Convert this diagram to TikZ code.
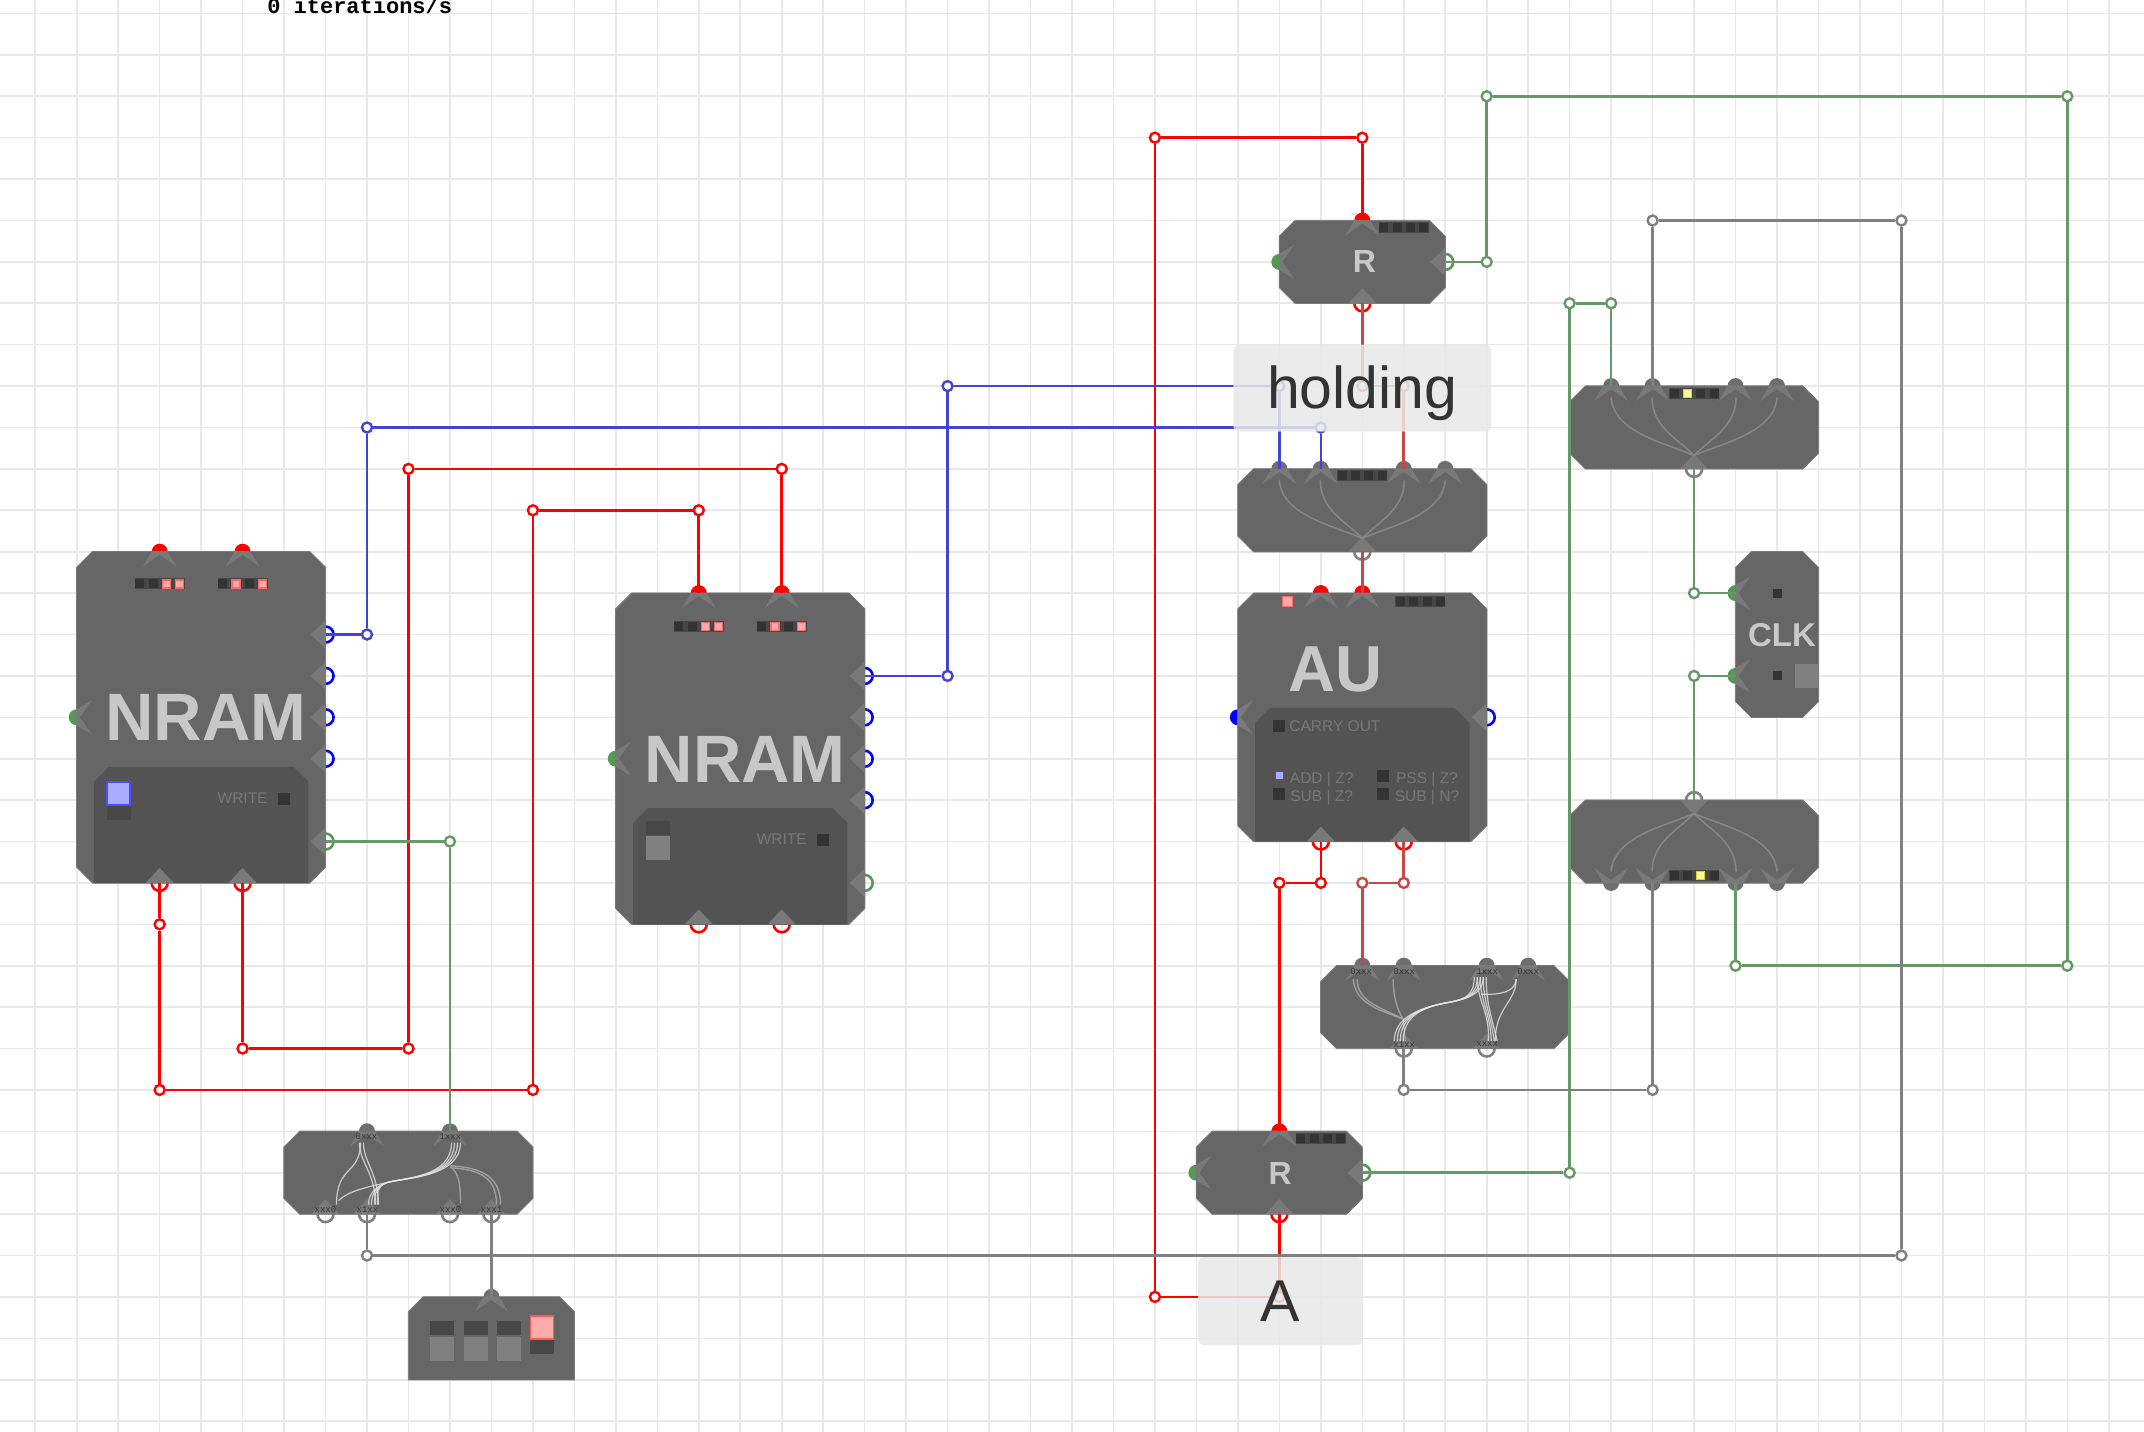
\documentclass[tikz,border=0pt]{standalone}
\usepackage{fontspec}
\setmainfont{Liberation Sans}
\setmonofont{Liberation Mono}
\usepackage{xcolor}
\usetikzlibrary{positioning, calc}

\definecolor{chipgray}{HTML}{666666}
\definecolor{panelgray}{HTML}{535353}
\definecolor{shadegray}{HTML}{797979}
\definecolor{chipfont}{HTML}{C8C8C8}
\definecolor{panelfont}{HTML}{787878}
\definecolor{gridgray}{HTML}{E8E8E8}
\definecolor{portred}{HTML}{FF0000}
\definecolor{portblue}{HTML}{0000FF}
\definecolor{portgreen}{HTML}{559955}
\definecolor{portgray}{HTML}{6E6E6E}
\definecolor{ringgray}{HTML}{808080}
\definecolor{wirered}{HTML}{FF0000}
\definecolor{wiredim}{HTML}{C84848}
\definecolor{wireblue}{HTML}{4444CC}
\definecolor{wiregreen}{HTML}{669966}
\definecolor{wiregray}{HTML}{808080}

\tikzset{
  box/.style 2 args={rectangle, inner sep=0pt, minimum width=#1*41.47pt, minimum height=#2*41.4pt},
  chipfill/.style={fill=chipgray, draw=shadegray, line width=0.8pt},
  panelfill/.style={fill=panelgray},
  wire/.style={line width=2.6pt, line join=round},
  joint/.style={circle, draw=#1, fill=white, line width=2.4pt, minimum size=10pt, inner sep=0pt},
  lampbar/.style={rectangle, fill=black!72, minimum width=50pt, minimum height=11pt, inner sep=0pt},
  lampoff/.style={rectangle, fill=black!80, minimum size=9pt, inner sep=0pt},
  lampred/.style={rectangle, fill=red!33, draw=red!60, line width=1.2pt, minimum size=8pt, inner sep=0pt},
  lampblue/.style={rectangle, fill=blue!33, draw=blue!75, line width=1.2pt, minimum size=8pt, inner sep=0pt},
  lampyel/.style={rectangle, fill=yellow!40, draw=yellow!85!black, line width=1.2pt, minimum size=8pt, inner sep=0pt},
  swgray/.style={rectangle, fill=black!50, minimum size=24pt, inner sep=0pt},
  swdark/.style={rectangle, fill=black!72, minimum width=24pt, minimum height=14pt, inner sep=0pt},
  swblue/.style={rectangle, fill=blue!33, draw=blue!70, line width=1.4pt, minimum size=23pt, inner sep=0pt},
  swred/.style={rectangle, fill=red!33, draw=red!65, line width=1.4pt, minimum size=23pt, inner sep=0pt},
  chiptext/.style={font=\fontsize{#1}{#1}\selectfont\bfseries, text=chipfont, inner sep=0pt},
  paneltext/.style={font=\fontsize{15.5}{15.5}\selectfont, text=panelfont, inner sep=0pt},
  bitstext/.style={font=\fontsize{9}{9}\selectfont\ttfamily, text=black!80, inner sep=0pt},
  notebox/.style={rectangle, rounded corners=6pt, fill=black!9, fill opacity=.86, text opacity=1, text=black!80,
    font=\fontsize{59}{59}\selectfont, inner sep=0pt},
  strand/.style={draw=black!10, line width=1.2pt, opacity=.8},
  faint/.style={draw=black!38, line width=1.4pt},
  muxline/.style={draw=black!48, line width=1.6pt},
  inchev/.pic={\fill[shadegray] (-8pt,0pt) -- (8pt,0pt) -- (17pt,-15pt) -- (0pt,-3pt) -- (-17pt,-15pt) -- cycle;},
  outchev/.pic={\fill[shadegray] (-14pt,0pt) -- (14pt,0pt) -- (0pt,15pt) -- cycle;},
  muxlines/.pic={
    \foreach \s in {-1,1} {
      \draw[muxline] (\s*83pt,30pt) .. controls (\s*80pt,-5pt) and (\s*30pt,-15pt) .. (0pt,-28pt);
      \draw[muxline] (\s*42pt,30pt) .. controls (\s*42pt,0pt) and (\s*15pt,-12pt) .. (0pt,-28pt);
    }
  }
}

% name, x, y, width, height: all four corners cut
\newcommand{\chipnode}[5]{
  \node[box={#4}{#5}] (#1) at (#2,#3) {};
  \filldraw[chipfill] ([xshift=16pt]#1.north west) -- ([xshift=-16pt]#1.north east)
    -- ([yshift=-16pt]#1.north east) -- ([yshift=16pt]#1.south east) -- ([xshift=-16pt]#1.south east)
    -- ([xshift=16pt]#1.south west) -- ([yshift=16pt]#1.south west) -- ([yshift=-16pt]#1.north west) -- cycle;
}
% style, name, x, y, width, height: only the upper corners cut
\newcommand{\roofnode}[6]{
  \node[box={#5}{#6}] (#2) at (#3,#4) {};
  \fill[#1] ([xshift=15pt]#2.north west) -- ([xshift=-15pt]#2.north east)
    -- ([yshift=-15pt]#2.north east) -- (#2.south east) -- (#2.south west) -- ([yshift=-15pt]#2.north west) -- cycle;
}

\newcommand{\inports}{
  na-t1/2/0/0/portred, na-t2/4/0/0/portred, nb-t1/15/1/0/portred, nb-t2/17/1/0/portred,
  na-w/0/4/90/portgreen, nb-w/13/5/90/portgreen,
  ra-t/31/-8/0/portred, ra-w/29/-7/90/portgreen, rb-t/29/14/0/portred, rb-w/27/15/90/portgreen,
  au-t1/30/1/0/portred, au-t2/31/1/0/portred, au-w/28/4/90/portblue,
  tm-t1/29/-2/0/portgray, tm-t2/30/-2/0/portgray, tm-t3/32/-2/0/portgray, tm-t4/33/-2/0/portgray,
  mu-t1/37/-4/0/portgray, mu-t2/38/-4/0/portgray, mu-t3/40/-4/0/portgray, mu-t4/41/-4/0/portgray,
  md-b1/37/8/180/portgray, md-b2/38/8/180/portgray, md-b3/40/8/180/portgray, md-b4/41/8/180/portgray,
  sa-t1/7/14/0/portgray, sa-t2/9/14/0/portgray, dp-t/10/18/0/portgray,
  sb-t1/31/10/0/portgray, sb-t2/32/10/0/portgray, sb-t3/34/10/0/portgray, sb-t4/35/10/0/portgray,
  ck-w1/40/1/90/portgreen, ck-w2/40/3/90/portgreen}
\newcommand{\outports}{
  na-r1/6/2/90/portblue, na-r2/6/3/90/portblue, na-r3/6/4/90/portblue, na-r4/6/5/90/portblue, na-r5/6/7/90/portgreen,
  na-b1/2/8/0/portred, na-b2/4/8/0/portred,
  nb-r1/19/3/90/portblue, nb-r2/19/4/90/portblue, nb-r3/19/5/90/portblue, nb-r4/19/6/90/portblue, nb-r5/19/8/90/portgreen,
  nb-b1/15/9/0/portred, nb-b2/17/9/0/portred,
  ra-e/33/-7/90/portgreen, ra-b/31/-6/0/portred, rb-e/31/15/90/portgreen, rb-b/29/16/0/portred,
  au-e/34/4/90/portblue, au-b1/30/7/0/portred, au-b2/32/7/0/portred,
  tm-b/31/0/0/ringgray, mu-b/39/-2/0/ringgray, md-t/39/6/180/ringgray,
  sa-b1/6/16/0/ringgray, sa-b2/7/16/0/ringgray, sa-b3/9/16/0/ringgray, sa-b4/10/16/0/ringgray,
  sb-b1/32/12/0/ringgray, sb-b2/34/12/0/ringgray}

\begin{document}
\begin{tikzpicture}[x=41.47pt, y=-41.4pt]
  \useasboundingbox (-1.85,-13.326) rectangle (49.85,21.24);
  \clip (-1.85,-13.326) rectangle (49.85,21.24);
  \foreach \c in {-1,...,49}
    \draw[gridgray, line width=1.6pt] (\c,-14) -- (\c,22);
  \foreach \r in {-13,...,21}
    \draw[gridgray, line width=1.6pt] (-2,\r) -- (50,\r);
  \node[anchor=base west, inner sep=0pt, font=\fontsize{22}{22}\selectfont\ttfamily\bfseries] (rate) at (4.59,-13) {0 iterations/s};

  % ports sit half under the chips
  \foreach \n/\x/\y/\a/\c in \inports {
    \coordinate (\n) at (\x,\y);
    \fill[\c] (\n) circle (8pt);
  }
  \foreach \n/\x/\y/\a/\c in \outports {
    \coordinate (\n) at (\x,\y);
    \draw[\c, line width=2.6pt] (\n) circle (8pt);
  }

  \foreach \n/\cx/\cy in {nrama/0/0, nramb/13/1} {
    \chipnode{\n}{\cx+3}{\cy+4}{6}{8}
    \roofnode{panelfill}{\n-panel}{\cx+3}{\cy+6.6}{5.16}{2.8}
    \node[chiptext=67] (\n-title) at (\cx+3.12,\cy+4.01) {NRAM};
    \node[paneltext] (\n-write) at (\cx+4,\cy+5.95) {WRITE};
    \node[lampoff, minimum size=12pt] (\n-wled) at (\cx+5,\cy+5.97) {};
  }
  \node[swblue] (nrama-sw) at (1.01,5.84) {};
  \node[swdark] (nrama-swb) at (1.01,6.3) {};
  \node[swdark] (nramb-swb) at (14.02,6.67) {};
  \node[swgray] (nramb-sw) at (14.02,7.16) {};

  \chipnode{rega}{31}{-7}{4}{2}
  \chipnode{regb}{29}{15}{4}{2}
  \chipnode{mxa}{31}{-1}{6}{2}
  \chipnode{mxb}{39}{-3}{6}{2}
  \chipnode{mxc}{39}{7}{6}{2}
  \chipnode{spa}{8}{15}{6}{2}
  \chipnode{spb}{33}{11}{6}{2}
  \chipnode{clk}{41}{2}{2}{4}
  \chipnode{au}{31}{4}{6}{6}
  \roofnode{panelfill}{au-panel}{31}{5.39}{5.16}{3.22}
  \roofnode{chipfill}{dip}{10}{19}{4}{2}

  \node[chiptext=32] (rega-title) at (31.05,-7) {R};
  \node[chiptext=32] (regb-title) at (29.02,15.03) {R};
  \node[chiptext=33] (clk-title) at (41.12,2.02) {CLK};
  \node[chiptext=65] (au-title) at (30.36,2.84) {AU};

  \node[lampoff] (ck-a) at (41,1) {};
  \node[lampoff] (ck-b) at (41,3) {};
  \node[swgray] (ck-sw) at (41.73,3) {};

  \foreach \n/\x in {dp1/-1.18, dp2/-0.38, dp3/0.42} {
    \node[swgray] (\n) at (10+\x,19.27) {};
    \node[swdark] (\n-top) at (10+\x,18.75) {};
  }
  \node[swred] (dp4) at (11.22,18.74) {};
  \node[swdark] (dp4-low) at (11.22,19.2) {};

  \foreach \n/\bx/\by/\sa/\sb/\sc/\sd in {
    na1/2/0.78/lampoff/lampoff/lampred/lampred, na2/4/0.78/lampoff/lampred/lampoff/lampred,
    nb1/15/1.8/lampoff/lampoff/lampred/lampred, nb2/17/1.8/lampoff/lampred/lampoff/lampred,
    rg1/32/-7.82/lampoff/lampoff/lampoff/lampoff, rg2/30/14.18/lampoff/lampoff/lampoff/lampoff,
    mx1/31/-1.83/lampoff/lampoff/lampoff/lampoff, au1/32.4/1.2/lampoff/lampoff/lampoff/lampoff,
    mx2/39/-3.83/lampoff/lampyel/lampoff/lampoff, mx3/39/7.82/lampoff/lampoff/lampyel/lampoff} {
    \node[lampbar] (\n) at (\bx,\by) {};
    \foreach \k/\s in {1/\sa,2/\sb,3/\sc,4/\sd}
      \node[\s] (\n-\k) at ([xshift={(\k-2.5)*13.3pt}]\n) {};
  }

  % au panel
  \node[lampred, minimum size=10pt] (au-led) at (29.2,1.2) {};
  \node[lampoff, minimum size=12pt] (au-cled) at (29,4.21) {};
  \node[paneltext] (au-carry) at (30.34,4.21) {CARRY OUT};
  \node[lampblue] (au-l1) at (29,5.41) {};
  \node[lampoff, minimum size=12pt] (au-l2) at (29,5.86) {};
  \node[lampoff, minimum size=12pt] (au-l3) at (31.5,5.41) {};
  \node[lampoff, minimum size=12pt] (au-l4) at (31.5,5.86) {};
  \node[paneltext] (au-lab1) at (30.02,5.5) {ADD | Z?};
  \node[paneltext] (au-lab2) at (30.02,5.93) {SUB | Z?};
  \node[paneltext] (au-lab3) at (32.56,5.5) {PSS | Z?};
  \node[paneltext] (au-lab4) at (32.56,5.93) {SUB | N?};

  \foreach \n/\x/\y/\a/\c in \inports
    \pic[rotate=\a] at (\n) {inchev};
  \foreach \n/\x/\y/\a/\c in \outports
    \pic[rotate=\a] at (\n) {outchev};

  \pic at (mxa) {muxlines};
  \pic at (mxb) {muxlines};
  \pic[yscale=-1] at (mxc) {muxlines};

  \begin{scope}[shift={(spa)}]
    \draw[faint] (42pt,6pt) .. controls (50pt,0pt) and (52pt,-10pt) .. (52pt,-31pt);
    \draw[faint] (42pt,7pt) .. controls (75pt,5pt) and (92pt,-5pt) .. (92pt,-32pt);
    \draw[faint] (42pt,5pt) .. controls (72pt,3pt) and (88pt,-5pt) .. (88pt,-32pt);
    \foreach \d in {-5,-2,1,4} {
      \draw[strand] (\d pt+48pt,30pt) .. controls (\d pt+48pt,-5pt) and (-5pt,-5pt) .. (-22pt,-10pt)
        .. controls (-32pt,-14pt) and (-35pt+\d pt,-20pt) .. (-35pt+\d pt,-32pt);
    }
    \draw[strand] (-70pt,-28pt) .. controls (-60pt,-18pt) and (-40pt,-14pt) .. (-22pt,-10pt);
    \draw[strand] (-49pt,30pt) .. controls (-49pt,10pt) and (-33pt,0pt) .. (-33pt,-32pt);
    \draw[strand] (-45pt,30pt) .. controls (-45pt,10pt) and (-30pt,0pt) .. (-30pt,-32pt);
    \draw[strand] (-48pt,30pt) .. controls (-48pt,-2pt) and (-72pt,8pt) .. (-72pt,-32pt);
    \node[bitstext] (sa-l1) at (-42pt,36pt) {0xxx};
    \node[bitstext] (sa-l2) at (42pt,36pt) {1xxx};
    \node[bitstext] (sa-l3) at (-83pt,-37pt) {xxx0};
    \node[bitstext] (sa-l4) at (-41pt,-37pt) {x1xx};
    \node[bitstext] (sa-l5) at (42pt,-37pt) {xxx0};
    \node[bitstext] (sa-l6) at (83pt,-37pt) {xxx1};
  \end{scope}

  \begin{scope}[shift={(spb)}]
    \draw[faint] (-88pt,28pt) .. controls (-88pt,5pt) and (-65pt,0pt) .. (-42pt,-12pt);
    \draw[faint] (-92pt,28pt) .. controls (-90pt,3pt) and (-65pt,-3pt) .. (-42pt,-12pt);
    \draw[faint] (-52pt,28pt) .. controls (-52pt,10pt) and (-48pt,-3pt) .. (-42pt,-12pt) -- (-40pt,-34pt);
    \foreach \d in {-4,-1,2,5} {
      \draw[strand] (-47pt+\d pt,-34pt) .. controls (-47pt+\d pt,-10pt) and (-25pt,0pt) .. (5pt,5pt)
        .. controls (20pt,8pt) and (33pt+\d pt,12pt) .. (33pt+\d pt,30pt);
      \draw[strand] (36pt+\d pt,30pt) .. controls (36pt+\d pt,5pt) and (45pt,-5pt) .. (47pt+\d pt,-34pt);
    }
    \draw[strand] (36pt,13pt) .. controls (55pt,12pt) and (70pt,15pt) .. (71pt,28pt);
    \draw[strand] (71pt,28pt) .. controls (71pt,5pt) and (50pt,0pt) .. (50pt,-34pt);
    \node[bitstext] (sb-l1) at (-84pt,36pt) {0xxx};
    \node[bitstext] (sb-l2) at (-41pt,36pt) {0xxx};
    \node[bitstext] (sb-l3) at (42pt,36pt) {1xxx};
    \node[bitstext] (sb-l4) at (83pt,36pt) {0xxx};
    \node[bitstext] (sb-l5) at (-41pt,-37pt) {x1xx};
    \node[bitstext] (sb-l6) at (42pt,-37pt) {xxxx};
  \end{scope}

  % corners of the wires
  \foreach \n/\x/\y in {bl1/7/2, bl2/7/-3, bl3/30/-3, bl4/21/3, bl5/21/-4, bl6/29/-4}
    \node[joint=wireblue] (\n) at (\x,\y) {};
  \foreach \n/\x/\y in {rd1/4/12, rd2/8/12, rd3/8/-2, rd4/17/-2, rd5/2/9, rd6/2/13, rd7/11/13, rd8/11/-1, rd9/15/-1,
    rd10/31/-10, rd11/26/-10, rd12/26/18, rd13/29/18, rd14/29/8, rd15/30/8}
    \node[joint=wirered] (\n) at (\x,\y) {};
  \foreach \n/\x/\y in {dm1/31/-4, dm2/32/-4, dm3/32/8, dm4/31/8}
    \node[joint=wiredim] (\n) at (\x,\y) {};
  \foreach \n/\x/\y in {gn1/9/7, gn2/34/-7, gn3/34/-11, gn4/48/-11, gn5/48/10, gn6/40/10, gn7/36/15, gn8/36/-6, gn9/37/-6,
    gn10/39/1, gn11/39/3}
    \node[joint=wiregreen] (\n) at (\x,\y) {};
  \foreach \n/\x/\y in {gy1/7/17, gy2/44/17, gy3/44/-8, gy4/38/-8, gy5/32/13, gy6/38/13}
    \node[joint=wiregray] (\n) at (\x,\y) {};

  \draw[wire, wirered] (na-b2) -- (rd1) -- (rd2) -- (rd3) -- (rd4) -- (nb-t2);
  \draw[wire, wirered] (na-b1) -- (rd5) -- (rd6) -- (rd7) -- (rd8) -- (rd9) -- (nb-t1);
  \draw[wire, wirered] (ra-t) -- (rd10) -- (rd11) -- (rd12) -- (rd13) -- (rb-b);
  \draw[wire, wirered] (rb-t) -- (rd14) -- (rd15) -- (au-b1);
  \draw[wire, wiredim] (ra-b) -- (dm1) -- (dm2) -- (tm-t3);
  \draw[wire, wiredim] (tm-b) -- (au-t2);
  \draw[wire, wiredim] (au-b2) -- (dm3) -- (dm4) -- (sb-t1);
  \draw[wire, wireblue] (na-r1) -- (bl1) -- (bl2) -- (bl3) -- (tm-t2);
  \draw[wire, wireblue] (nb-r1) -- (bl4) -- (bl5) -- (bl6) -- (tm-t1);
  \draw[wire, wiregreen] (na-r5) -- (gn1) -- (sa-t2);
  \draw[wire, wiregreen] (ra-e) -- (gn2) -- (gn3) -- (gn4) -- (gn5) -- (gn6) -- (md-b3);
  \draw[wire, wiregreen] (rb-e) -- (gn7) -- (gn8) -- (gn9) -- (mu-t1);
  \draw[wire, wiregreen] (mu-b) -- (gn10) -- (ck-w1);
  \draw[wire, wiregreen] (md-t) -- (gn11) -- (ck-w2);
  \draw[wire, wiregray] (sa-b2) -- (gy1) -- (gy2) -- (gy3) -- (gy4) -- (mu-t2);
  \draw[wire, wiregray] (sa-b4) -- (dp-t);
  \draw[wire, wiregray] (sb-b1) -- (gy5) -- (gy6) -- (md-b2);

  \node[notebox, minimum width=258pt, minimum height=87pt] (holding) at (31,-3.95) {\raisebox{-20pt}[0pt][0pt]{holding}};
  \node[notebox, minimum width=165pt, minimum height=88pt] (labela) at (29.03,18.1) {\raisebox{-20pt}[0pt][0pt]{A}};
\end{tikzpicture}
\end{document}
